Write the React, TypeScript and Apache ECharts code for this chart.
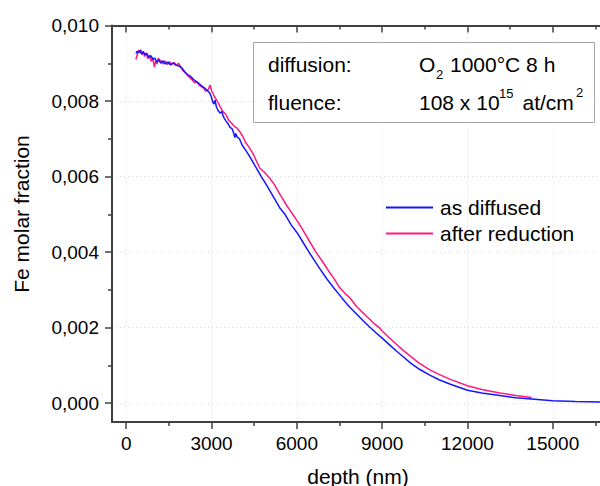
import { useEffect, useRef } from 'react';
import * as echarts from 'echarts';

const xMajor = [0, 3000, 6000, 9000, 12000, 15000];
const xMinor = [1500, 4500, 7500, 10500, 13500, 16500];
const yMajor = [0, 0.002, 0.004, 0.006, 0.008, 0.01];
const yMinor = [0.001, 0.003, 0.005, 0.007, 0.009];

const seriesNames = ['as diffused', 'after reduction'];

const depthBlue = [
  345, 380, 430, 480, 540, 600, 660, 720, 800, 870, 940, 1000, 1080, 1150, 1220, 1300, 1380, 1460, 1550,
  1650, 1750, 1850, 1950, 2050, 2150, 2250, 2350, 2450, 2550, 2650, 2750, 2850, 2930, 2990, 3040, 3080,
  3120, 3170, 3230, 3300, 3360, 3420, 3500, 3580, 3650, 3720, 3780, 3820, 3850, 3900, 3980, 4080, 4200,
  4350, 4500, 4750, 4900, 5100, 5300, 5410, 5600, 5800, 6000, 6200, 6400, 6600, 6800, 7045, 7300, 7506,
  7700, 7863, 8100, 8332, 8570, 8800, 9000, 9250, 9500, 9750, 10000, 10325, 10676, 11000, 11400, 12000,
  12500, 13138, 13700, 14254, 15000, 15800, 16660,
];
const valueBlue = [
  0.00926, 0.00932, 0.00928, 0.00934, 0.00925, 0.0093, 0.00922, 0.00926, 0.00915, 0.0092, 0.0091, 0.00914,
  0.00903, 0.0091, 0.009, 0.00906, 0.00898, 0.00903, 0.00896, 0.00901, 0.00895, 0.00893, 0.00888, 0.00878,
  0.0087, 0.00866, 0.00858, 0.00852, 0.00847, 0.0084, 0.00835, 0.00828, 0.00822, 0.00812, 0.00798, 0.00792,
  0.00802, 0.00785, 0.00775, 0.00768, 0.00772, 0.00758, 0.00748, 0.0074, 0.0073, 0.00727, 0.00715, 0.00703,
  0.00714, 0.00705, 0.007, 0.00683, 0.0067, 0.00652, 0.00632, 0.006, 0.00582, 0.00556, 0.0053, 0.00516,
  0.00498, 0.00472, 0.00452, 0.00428, 0.00403, 0.0038, 0.00357, 0.0033, 0.00305, 0.00286, 0.00268, 0.00254,
  0.00236, 0.00218, 0.00201, 0.00185, 0.00172, 0.00155, 0.00138, 0.00122, 0.00106, 0.00089, 0.00074,
  0.00062, 0.0005, 0.00034, 0.00027, 0.0002, 0.00014, 0.00011, 0.00006, 0.00004, 0.00003,
];

const depthPink = [
  340, 370, 400, 440, 480, 520, 560, 600, 650, 700, 760, 820, 880, 930, 990, 1030, 1080, 1130, 1180, 1240,
  1300, 1370, 1440, 1520, 1600, 1680, 1760, 1840, 1920, 2000, 2080, 2160, 2240, 2320, 2400, 2480, 2560,
  2640, 2720, 2800, 2880, 2950, 3000, 3100, 3200, 3300, 3400, 3500, 3600, 3700, 3800, 3900, 4000, 4100,
  4200, 4300, 4450, 4600, 4700, 4850, 5052, 5200, 5410, 5640, 5800, 6000, 6200, 6450, 6670, 6900, 7100,
  7277, 7506, 7700, 7863, 8100, 8300, 8449, 8700, 8895, 9000, 9250, 9500, 9750, 10000, 10300, 10676,
  11000, 11400, 12000, 12500, 13138, 13700, 14254,
];
const valuePink = [
  0.0091, 0.00918, 0.00925, 0.00935, 0.00928, 0.00936, 0.00922, 0.00932, 0.00918, 0.00928, 0.00912,
  0.00922, 0.00905, 0.00915, 0.0089, 0.00905, 0.00898, 0.00914, 0.00902, 0.00908, 0.00898, 0.00906,
  0.00897, 0.00904, 0.00896, 0.00902, 0.00894, 0.009, 0.0089, 0.0088, 0.00874, 0.00868, 0.00862, 0.00856,
  0.00848, 0.00852, 0.00842, 0.00838, 0.00834, 0.00826, 0.0083, 0.00842, 0.00828, 0.00812, 0.008, 0.00785,
  0.00772, 0.00765, 0.0075, 0.00742, 0.00733, 0.00728, 0.00718, 0.00706, 0.0069, 0.0068, 0.00662, 0.00638,
  0.00622, 0.00612, 0.00595, 0.0058, 0.00552, 0.00524, 0.00506, 0.00484, 0.0046, 0.00428, 0.004, 0.00375,
  0.00352, 0.00333, 0.00306, 0.0029, 0.00279, 0.00256, 0.00241, 0.0023, 0.00212, 0.002, 0.00191, 0.00173,
  0.00156, 0.00139, 0.00124, 0.00106, 0.00088, 0.00076, 0.00063, 0.00046, 0.00036, 0.00027, 0.0002,
  0.00015,
];

const X_MIN = -500;
const X_MAX = 16660;
const Y_MIN = -0.0005;
const Y_MAX = 0.01;

const FONT = '"Liberation Sans", Arial, sans-serif';
const AXIS_COLOR = '#404040';

function txt(text: string, x: number, y: number, size: number, extra: Record<string, unknown> = {}) {
  return {
    type: 'text',
    z: 101,
    x,
    y,
    ...extra,
    style: {
      text,
      font: `${size}px ${FONT}`,
      fill: '#000',
      align: 'left',
      verticalAlign: 'middle',
    },
  };
}

export default function App() {
  const ref = useRef<HTMLDivElement>(null);

  useEffect(() => {
    if (!ref.current) return;
    const chart = echarts.init(ref.current, undefined, { renderer: 'svg' });

    const gridRect = { left: 112, top: 25.5, right: 0, bottom: 64 };
    const tickStyle = { color: AXIS_COLOR, width: 1.5 };
    const mainLine = { show: true, onZero: false, lineStyle: { color: AXIS_COLOR, width: 2 } };
    const noLine = { show: false, onZero: false };
    const dotted = { show: true, lineStyle: { color: '#d9d9d9', type: [1, 3], width: 1 } };

    chart.setOption({
      animation: false,
      backgroundColor: '#ffffff',
      textStyle: { fontFamily: FONT },
      grid: [
        { ...gridRect, containLabel: false },
        { ...gridRect, containLabel: false },
      ],
      xAxis: [
        {
          type: 'value',
          gridIndex: 0,
          position: 'bottom',
          min: X_MIN,
          max: X_MAX,
          axisLine: mainLine,
          axisTick: { show: true, inside: false, length: 7, customValues: xMajor, lineStyle: tickStyle },
          axisLabel: {
            show: true,
            customValues: xMajor,
            margin: 12,
            color: '#000',
            fontSize: 19,
            fontFamily: FONT,
            formatter: (v: number) => String(Math.round(v)),
          },
          splitLine: dotted,
        },
        {
          type: 'value',
          gridIndex: 0,
          position: 'top',
          min: X_MIN,
          max: X_MAX,
          axisLine: mainLine,
          axisTick: { show: true, inside: true, length: 7, customValues: xMajor, lineStyle: tickStyle },
          axisLabel: { show: false },
          splitLine: { show: false },
        },
        {
          type: 'value',
          gridIndex: 1,
          position: 'bottom',
          min: X_MIN,
          max: X_MAX,
          axisLine: noLine,
          axisTick: { show: true, inside: false, length: 4, customValues: xMinor, lineStyle: tickStyle },
          axisLabel: { show: false },
          splitLine: { show: false },
        },
        {
          type: 'value',
          gridIndex: 1,
          position: 'top',
          min: X_MIN,
          max: X_MAX,
          axisLine: noLine,
          axisTick: { show: true, inside: true, length: 4, customValues: xMinor, lineStyle: tickStyle },
          axisLabel: { show: false },
          splitLine: { show: false },
        },
      ],
      yAxis: [
        {
          type: 'value',
          gridIndex: 0,
          position: 'left',
          min: Y_MIN,
          max: Y_MAX,
          axisLine: mainLine,
          axisTick: { show: true, inside: false, length: 7, customValues: yMajor, lineStyle: tickStyle },
          axisLabel: {
            show: true,
            customValues: yMajor,
            margin: 13,
            color: '#000',
            fontSize: 19,
            fontFamily: FONT,
            formatter: (v: number) => v.toFixed(3).replace('.', ','),
          },
          splitLine: dotted,
        },
        {
          type: 'value',
          gridIndex: 1,
          position: 'left',
          min: Y_MIN,
          max: Y_MAX,
          axisLine: noLine,
          axisTick: { show: true, inside: false, length: 4, customValues: yMinor, lineStyle: tickStyle },
          axisLabel: { show: false },
          splitLine: { show: false },
        },
      ],
      legend: {
        show: true,
        orient: 'vertical',
        left: 381,
        top: 192,
        itemWidth: 47,
        itemHeight: 2,
        itemGap: 5,
        icon: 'rect',
        data: seriesNames,
        textStyle: { fontSize: 21, color: '#000', fontFamily: FONT, lineHeight: 21, padding: [0, 0, 0, 2] },
      },
      series: [
        {
          name: seriesNames[0],
          type: 'line',
          xAxisIndex: 0,
          yAxisIndex: 0,
          symbol: 'none',
          showSymbol: false,
          color: '#1515ff',
          lineStyle: { width: 1.5, color: '#1515ff' },
          data: depthBlue.map((d, i) => [d, valueBlue[i]]),
          z: 3,
        },
        {
          name: seriesNames[1],
          type: 'line',
          xAxisIndex: 0,
          yAxisIndex: 0,
          symbol: 'none',
          showSymbol: false,
          color: '#ff1a80',
          lineStyle: { width: 1.5, color: '#ff1a80' },
          data: depthPink.map((d, i) => [d, valuePink[i]]),
          z: 2,
        },
      ],
      graphic: [
        {
          type: 'rect',
          z: 100,
          shape: { x: 253.5, y: 42.5, width: 341, height: 80 },
          style: { fill: '#ffffff', stroke: '#a6a6a6', lineWidth: 1 },
        },
        txt('diffusion:', 268, 64, 21),
        txt('fluence:', 268, 102, 21),
        txt('O', 419, 64, 21),
        txt('2', 436, 74, 13),
        txt('1000°C 8 h', 450, 64, 21),
        txt('108 x 10', 419, 102, 21),
        txt('15', 499, 93.5, 13),
        txt('at/cm', 522.5, 102, 21),
        txt('2', 576, 92.5, 13),
        {
          type: 'text',
          x: 358,
          y: 476,
          style: {
            text: 'depth (nm)',
            font: `21px ${FONT}`,
            fill: '#000',
            align: 'center',
            verticalAlign: 'middle',
          },
        },
        {
          type: 'text',
          x: 21,
          y: 214,
          rotation: Math.PI / 2,
          style: {
            text: 'Fe molar fraction',
            font: `21px ${FONT}`,
            fill: '#000',
            align: 'center',
            verticalAlign: 'middle',
          },
        },
      ],
    });

    return () => {
      chart.dispose();
    };
  }, []);

  return (
    <div
      ref={ref}
      style={{ position: 'fixed', left: 0, top: 0, width: 600, height: 486, background: '#fff' }}
    />
  );
}
